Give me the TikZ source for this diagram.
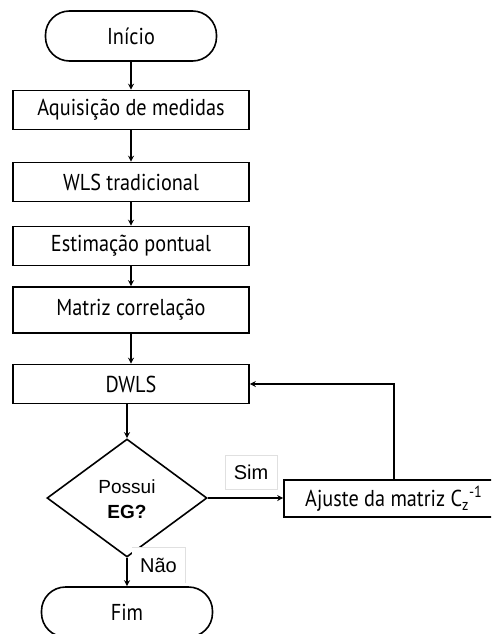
\documentclass[tikz,border=0pt]{standalone}
\usepackage{fontspec}
\setmainfont{PT Sans}[FakeStretch=0.88]
\newfontfamily\labelfont{Liberation Sans}
\usetikzlibrary{shapes.geometric,arrows.meta}
\begin{document}
\begin{tikzpicture}[x=1pt,y=-1pt,
  every node/.style={font=\fontsize{23}{26}\selectfont},
  proc/.style={draw, line width=1.6pt, rectangle, minimum width=236pt, minimum height=39pt, inner sep=0pt},
  term/.style={draw, line width=1.6pt, rectangle, rounded corners=24pt, minimum width=171pt, minimum height=50pt, inner sep=0pt},
  decision/.style={draw, line width=1.6pt, diamond, minimum width=160pt, minimum height=118pt, inner sep=0pt, aspect=1.36},
  tag/.style={draw=black!12, line width=0.6pt, fill=white, inner sep=0pt, font=\labelfont\fontsize{20}{22}\selectfont},
  flow/.style={line width=1.6pt, -{Stealth[length=6pt,width=6pt]}}]
\useasboundingbox (0,0) rectangle (491,634);
\begin{scope}
\clip (0,0) rectangle (491,634);
\node[term] (start) at (131,36) {Início};
\node[proc] (acq) at (131,110) {Aquisição de medidas};
\node[proc] (wls) at (131,182) {WLS tradicional};
\node[proc] (est) at (131,246) {Estimação pontual};
\node[proc, minimum height=46pt] (corr) at (131,310) {Matriz correlação};
\node[proc] (dwls) at (131,384) {DWLS};
\node[decision] (eg) at (127,498) {};
\node[font=\labelfont\fontsize{19}{21}\selectfont] (egtop) at (127,487) {Possui};
\node[font=\labelfont\bfseries\fontsize{19}{21}\selectfont] (egbot) at (127,512) {EG?};
\node[proc, minimum width=224pt, minimum height=37pt] (adj) at (396,498.5) {};
\node[anchor=west, inner sep=0pt] (adjtext) at (305,498.5) {Ajuste da matriz C\textsubscript{z}\textsuperscript{-1}};
\node[term] (stop) at (127,612) {Fim};
\node[tag, minimum width=52pt, minimum height=34pt] (sim) at (251,472) {Sim};
\node[tag, minimum width=53pt, minimum height=35pt, draw=none] (nao) at (158.5,565.5) {Não};
\draw[black!12, line width=0.6pt] (nao.north west) -- (nao.north east) -- (nao.south east);

\draw[flow] (start) -- (acq);
\draw[flow] (acq) -- (wls);
\draw[flow] (wls) -- (est);
\draw[flow] (est) -- (corr);
\draw[flow] (corr) -- (dwls);
\draw[flow] (dwls.south -| eg.north) -- (eg.north);
\draw[flow] (eg.east) -- (adj.west |- eg.east);
\draw[flow] (eg.south) -- (stop.north -| eg.south);
\draw[flow] (adj.north -| 394,0) -- (394,384) -- (dwls.east);
\end{scope}
\end{tikzpicture}
\end{document}
